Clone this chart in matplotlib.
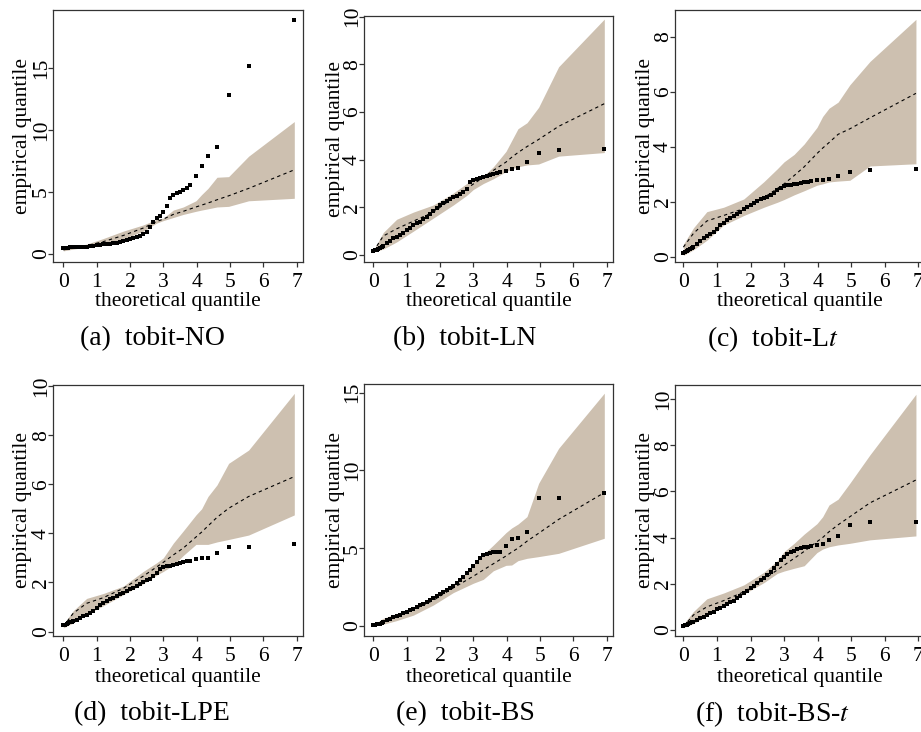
import matplotlib
matplotlib.use('Agg')
import matplotlib.pyplot as plt

plt.rcParams['font.family'] = ['Liberation Serif', 'DejaVu Serif']
plt.rcParams['mathtext.fontset'] = 'stix'

# ---------------- data ----------------
X_PTS = [0.0, 0.05, 0.1, 0.15, 0.2, 0.25, 0.3, 0.4, 0.5, 0.6, 0.7, 0.8, 0.9, 1.0,
         1.1, 1.2, 1.3, 1.4, 1.5, 1.6, 1.7, 1.8, 1.9, 2.0, 2.1, 2.2, 2.3, 2.4, 2.5,
         2.6, 2.7, 2.8, 2.9, 3.0, 3.1, 3.2, 3.3, 3.4, 3.5, 3.6, 3.7, 3.8,
         3.98, 4.15, 4.34, 4.61, 4.96, 5.56, 6.93]
X_ENV = [0.0, 0.3, 0.7, 1.2, 1.8, 2.4, 2.8, 3.0, 3.3, 3.6, 3.98, 4.15, 4.34, 4.61,
         4.96, 5.56, 6.93]

PTS_A = [0.45, 0.47, 0.5, 0.52, 0.53, 0.54, 0.55, 0.56, 0.57, 0.58, 0.6, 0.63, 0.66,
         0.7, 0.74, 0.77, 0.8, 0.84, 0.88, 0.92, 0.97, 1.03, 1.1, 1.22, 1.3, 1.4,
         1.48, 1.6, 1.8, 2.2, 2.6, 2.88, 3.05, 3.42, 3.85, 4.5, 4.78, 4.92, 5.05,
         5.18, 5.3, 5.6, 6.33, 7.13, 7.95, 8.65, 12.85, 15.2, 18.9]
LOW_A = [0.25, 0.4, 0.55, 0.75, 1.2, 1.85, 2.5, 2.7, 2.95, 3.2, 3.45, 3.55, 3.65,
         3.8, 3.85, 4.3, 4.5]
UPP_A = [0.42, 0.6, 0.8, 1.25, 1.85, 2.35, 2.8, 2.9, 3.55, 3.8, 4.3, 4.8, 5.3,
         6.2, 6.25, 7.9, 10.7]
MED_A = [0.33, 0.5, 0.68, 1.0, 1.5, 2.1, 2.62, 2.82, 3.2, 3.45, 3.8, 3.95, 4.12,
         4.38, 4.7, 5.3, 6.8]

PTS_B = [0.18, 0.2, 0.22, 0.25, 0.28, 0.33, 0.38, 0.49, 0.6, 0.7, 0.77, 0.84, 0.94,
         1.05, 1.15, 1.26, 1.33, 1.4, 1.5, 1.61, 1.74, 1.86, 1.98, 2.1, 2.19, 2.27,
         2.35, 2.42, 2.49, 2.56, 2.64, 2.78, 3.05, 3.14, 3.18, 3.22, 3.26, 3.31,
         3.36, 3.4, 3.43, 3.47, 3.52, 3.61, 3.66, 3.9, 4.28, 4.41, 4.45]
LOW_B = [0.12, 0.25, 0.55, 1.0, 1.55, 2.1, 2.5, 2.75, 3.0, 3.2, 3.5, 3.62, 3.7,
         3.78, 3.82, 4.15, 4.3]
UPP_B = [0.2, 0.95, 1.5, 1.8, 2.1, 2.6, 3.0, 3.15, 3.3, 3.7, 4.35, 4.8, 5.3, 5.55,
         6.2, 7.9, 9.9]
MED_B = [0.15, 0.8, 1.1, 1.42, 1.8, 2.4, 2.78, 2.98, 3.25, 3.55, 3.9, 4.1, 4.3,
         4.55, 4.85, 5.4, 6.35]

PTS_C = [0.15, 0.18, 0.2, 0.23, 0.28, 0.32, 0.36, 0.47, 0.57, 0.67, 0.75, 0.83,
         0.91, 1.02, 1.15, 1.23, 1.32, 1.4, 1.48, 1.56, 1.64, 1.72, 1.8, 1.88, 1.95,
         2.02, 2.09, 2.14, 2.19, 2.24, 2.32, 2.43, 2.5, 2.57, 2.6, 2.62, 2.64, 2.66,
         2.68, 2.7, 2.72, 2.75, 2.79, 2.79, 2.82, 2.95, 3.08, 3.15, 3.19]
LOW_C = [0.05, 0.25, 0.6, 1.15, 1.5, 1.8, 1.98, 2.08, 2.25, 2.4, 2.6, 2.65, 2.72,
         2.75, 2.78, 3.3, 3.38]
UPP_C = [0.45, 1.05, 1.64, 1.8, 2.1, 2.73, 3.2, 3.45, 3.72, 4.1, 4.7, 5.1, 5.4,
         5.62, 6.25, 7.1, 8.63]
MED_C = [0.35, 0.85, 1.3, 1.5, 1.75, 2.15, 2.48, 2.65, 2.95, 3.27, 3.75, 3.95, 4.15,
         4.45, 4.65, 5.05, 5.94]

PTS_D = [0.25, 0.28, 0.31, 0.34, 0.37, 0.4, 0.43, 0.49, 0.55, 0.62, 0.69, 0.76,
         0.83, 0.98, 1.1, 1.17, 1.24, 1.31, 1.38, 1.45, 1.51, 1.58, 1.65, 1.72, 1.79,
         1.85, 1.92, 2.0, 2.08, 2.16, 2.28, 2.4, 2.53, 2.61, 2.65, 2.69, 2.73, 2.77,
         2.8, 2.83, 2.87, 2.89, 2.96, 2.99, 3.01, 3.19, 3.46, 3.46, 3.55]
LOW_D = [0.15, 0.35, 0.7, 1.05, 1.5, 1.95, 2.3, 2.45, 2.7, 3.1, 3.55, 3.55, 3.55,
         3.65, 3.75, 3.93, 4.75]
UPP_D = [0.3, 0.85, 1.35, 1.55, 1.85, 2.45, 2.8, 3.0, 3.6, 4.1, 4.75, 5.0, 5.5,
         5.97, 6.85, 7.39, 9.7]
MED_D = [0.2, 0.75, 1.15, 1.38, 1.76, 2.26, 2.63, 2.82, 3.12, 3.4, 3.85, 4.05, 4.3,
         4.65, 5.02, 5.5, 6.31]

PTS_E = [0.06, 0.08, 0.1, 0.12, 0.14, 0.2, 0.28, 0.4, 0.48, 0.56, 0.64, 0.73, 0.83,
         0.92, 1.01, 1.1, 1.2, 1.32, 1.44, 1.56, 1.68, 1.8, 1.93, 2.06, 2.18, 2.31,
         2.45, 2.6, 2.74, 2.95, 3.17, 3.38, 3.6, 3.87, 4.13, 4.35, 4.56, 4.65, 4.71,
         4.75, 4.78, 4.78, 5.14, 5.57, 5.68, 6.06, 8.21, 8.21, 8.57]
LOW_E = [0.0, 0.12, 0.35, 0.7, 1.35, 2.15, 2.55, 2.75, 3.0, 3.55, 3.9, 3.92, 4.2,
         4.35, 4.46, 4.67, 5.64]
UPP_E = [0.1, 0.5, 0.8, 1.2, 1.9, 2.7, 3.45, 3.92, 4.6, 5.2, 6.0, 6.3, 6.55, 7.03,
         9.17, 11.42, 14.96]
MED_E = [0.02, 0.25, 0.6, 1.05, 1.65, 2.45, 2.95, 3.2, 3.6, 4.0, 4.5, 4.75, 5.0,
         5.45, 5.96, 6.85, 8.57]

PTS_F = [0.17, 0.2, 0.23, 0.26, 0.29, 0.33, 0.36, 0.44, 0.51, 0.58, 0.65, 0.72,
         0.79, 0.9, 0.97, 1.04, 1.12, 1.19, 1.27, 1.37, 1.48, 1.59, 1.69, 1.8, 1.9,
         2.02, 2.15, 2.27, 2.4, 2.53, 2.67, 2.85, 3.03, 3.17, 3.29, 3.36, 3.43, 3.49,
         3.54, 3.58, 3.61, 3.63, 3.68, 3.74, 3.9, 4.08, 4.56, 4.69, 4.69]
LOW_F = [0.1, 0.28, 0.62, 1.1, 1.55, 2.05, 2.45, 2.55, 2.67, 2.78, 3.35, 3.5, 3.6,
         3.68, 3.75, 3.9, 4.07]
UPP_F = [0.25, 0.8, 1.35, 1.6, 1.95, 2.5, 3.0, 3.39, 3.75, 4.15, 4.6, 4.9, 5.41,
         5.66, 6.35, 7.58, 10.2]
MED_F = [0.14, 0.65, 1.0, 1.27, 1.65, 2.2, 2.6, 2.8, 3.1, 3.4, 3.82, 4.0, 4.25,
         4.55, 4.9, 5.5, 6.49]

X_TICKS = [0, 1, 2, 3, 4, 5, 6, 7]
Y_TICKS_A = [0, 5, 10, 15]
Y_TICKS_B = [0, 2, 4, 6, 8, 10]
Y_TICKS_C = [0, 2, 4, 6, 8]
Y_TICKS_D = [0, 2, 4, 6, 8, 10]
Y_TICKS_E = [0, 5, 10, 15]
Y_TICKS_F = [0, 2, 4, 6, 8, 10]

CAPTIONS = ['(a)  tobit-NO', '(b)  tobit-LN', '(c)  tobit-L$t$',
            '(d)  tobit-LPE', '(e)  tobit-BS', '(f)  tobit-BS-$t$']
X_LABEL = 'theoretical quantile'
Y_LABEL = 'empirical quantile'

# ---------------- layout / style ----------------
W, H = 921, 732
ENV_COLOR = '#CDC0B0'
FRAME_COLOR = '#333333'
FS = 15.5

panels = [
    # pts, low, upp, med, yticks, frame px (l, t, r, b), xlim, ylim, ylabel dist, xlabel dist
    (PTS_A, LOW_A, UPP_A, MED_A, Y_TICKS_A, (53.3, 10, 303.3, 261.7), (-0.30, 7.2), (-0.62, 19.71), 21.7, 30),
    (PTS_B, LOW_B, UPP_B, MED_B, Y_TICKS_B, (364, 16, 613.3, 261.7), (-0.28, 7.2), (-0.28, 10.03), 19.0, 30),
    (PTS_C, LOW_C, UPP_C, MED_C, Y_TICKS_C, (675, 10, 925, 261.7), (-0.25, 7.2), (-0.18, 8.97), 20.0, 30),
    (PTS_D, LOW_D, UPP_D, MED_D, Y_TICKS_D, (53.3, 385, 303.3, 636), (-0.30, 7.2), (-0.18, 10.04), 21.7, 32),
    (PTS_E, LOW_E, UPP_E, MED_E, Y_TICKS_E, (364, 384, 613.3, 636), (-0.28, 7.2), (-0.64, 15.55), 19.0, 32),
    (PTS_F, LOW_F, UPP_F, MED_F, Y_TICKS_F, (675, 385, 925, 636), (-0.25, 7.2), (-0.26, 10.6), 20.0, 32),
]
caption_pos = [(152, 339), (465, 339), (773, 339), (152, 714), (465, 714), (773, 714)]

fig = plt.figure(figsize=(W / 100, H / 100), dpi=100)

for (pts, low, upp, med, yt, (l, t, r, b), xl, yl, yld, xld) in panels:
    ax = fig.add_axes([l / W, 1 - b / H, (r - l) / W, (b - t) / H])
    ax.fill_between(X_ENV, low, upp, color=ENV_COLOR, lw=0, zorder=1)
    ax.plot(X_ENV, med, color='black', lw=0.8, dashes=(3, 3), zorder=2)
    ax.plot(X_PTS, pts, 's', color='black', ms=3.5, mew=0, zorder=3)
    ax.set_xlim(*xl)
    ax.set_ylim(*yl)
    ax.set_xticks(X_TICKS)
    ax.set_yticks(yt)
    for sp in ax.spines.values():
        sp.set_color(FRAME_COLOR)
        sp.set_linewidth(0.9)
    ax.tick_params(axis='both', direction='out', length=3.6, width=0.9,
                   color=FRAME_COLOR, labelsize=FS)
    ax.tick_params(axis='x', pad=4.5)
    ax.tick_params(axis='y', pad=-2.0)
    for lbl in ax.get_yticklabels():
        lbl.set_rotation(90)
        lbl.set_va('center')
    ax.set_xlabel(X_LABEL, fontsize=FS)
    ax.set_ylabel(Y_LABEL, fontsize=FS)
    ax.xaxis.set_label_coords(0.5, -xld / (b - t))
    ax.yaxis.set_label_coords(-yld / (r - l), 0.5)

for (cx, cy), cap in zip(caption_pos, CAPTIONS):
    fig.text(cx / W, 1 - cy / H, cap, ha='center', va='center', fontsize=20)

fig.savefig('out.png', dpi=100)
